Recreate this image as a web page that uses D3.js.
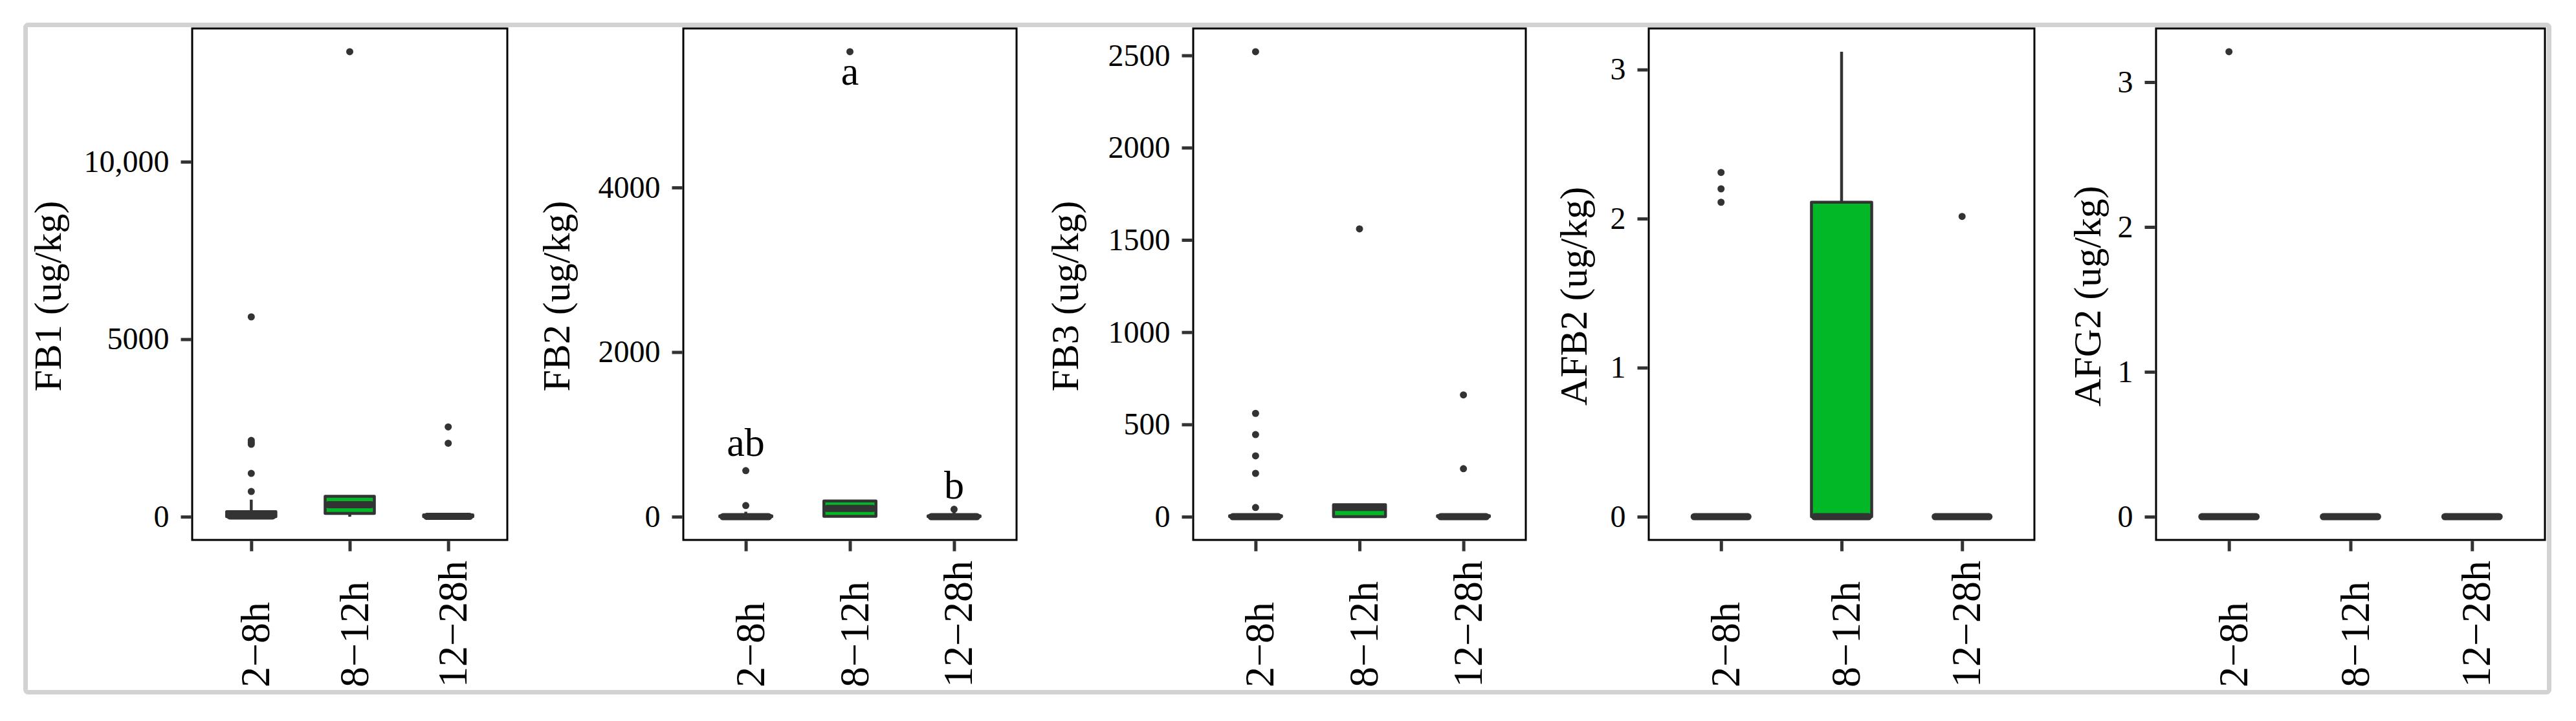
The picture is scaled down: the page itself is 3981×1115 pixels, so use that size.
<!DOCTYPE html>
<html><head><meta charset="utf-8">
<script src="https://cdn.jsdelivr.net/npm/d3@7"></script>
<style>html,body{margin:0;padding:0;background:#fff;} svg{display:block;}</style>
</head><body><svg id="chart" width="3981" height="1115"></svg>
<script>
// ---------------- data ----------------
const categories = ["2−8h", "8−12h", "12−28h"];
const yTitles = ["FB1 (ug/kg)", "FB2 (ug/kg)", "FB3 (ug/kg)", "AFB2 (ug/kg)", "AFG2 (ug/kg)"];
const fillColors = ["#ffffff", "#02B826", "#ffffff"];

// box stats per category: [lowerWhisker, q1, median, q3, upperWhisker]
const fb1Boxes = [[0, 0, 20, 140, 480], [0, 90, 340, 575, 600], [0, 0, 10, 50, 90]];
const fb1Outliers = [[5630, 2150, 2090, 2040, 1220, 710], [13100], [2530, 2070]];
const fb1Ticks = [0, 5000, 10000];
const fb1TickLabels = ["0", "5000", "10,000"];

const fb2Boxes = [[0, 0, 0, 10, 60], [0, 5, 100, 190, 190], [0, 0, 0, 10, 60]];
const fb2Outliers = [[560, 135], [5650], [90]];
const fb2Ticks = [0, 2000, 4000];
const fb2TickLabels = ["0", "2000", "4000"];
const fb2Letters = ["ab", "a", "b"];
const fb2LetterValues = [740, 5250, 220];

const fb3Boxes = [[0, 0, 0, 5, 10], [0, 0, 50, 65, 70], [0, 0, 0, 5, 10]];
const fb3Outliers = [[2520, 560, 445, 330, 235, 50], [1560], [660, 260]];
const fb3Ticks = [0, 500, 1000, 1500, 2000, 2500];
const fb3TickLabels = ["0", "500", "1000", "1500", "2000", "2500"];

const afb2Boxes = [[0, 0, 0, 0, 0], [0, 0, 0, 2.11, 3.12], [0, 0, 0, 0, 0]];
const afb2Outliers = [[2.31, 2.20, 2.11], [], [2.015]];
const afb2Ticks = [0, 1, 2, 3];
const afb2TickLabels = ["0", "1", "2", "3"];

const afg2Boxes = [[0, 0, 0, 0, 0], [0, 0, 0, 0, 0], [0, 0, 0, 0, 0]];
const afg2Outliers = [[3.21], [], []];
const afg2Ticks = [0, 1, 2, 3];
const afg2TickLabels = ["0", "1", "2", "3"];

// ---------------- layout ----------------
const FONT = "'Liberation Serif', 'Times New Roman', Times, serif";
const panelsData = [
  {boxes: fb1Boxes, outliers: fb1Outliers, ticks: fb1Ticks, labels: fb1TickLabels},
  {boxes: fb2Boxes, outliers: fb2Outliers, ticks: fb2Ticks, labels: fb2TickLabels, letters: fb2Letters, letterValues: fb2LetterValues},
  {boxes: fb3Boxes, outliers: fb3Outliers, ticks: fb3Ticks, labels: fb3TickLabels},
  {boxes: afb2Boxes, outliers: afb2Outliers, ticks: afb2Ticks, labels: afb2TickLabels},
  {boxes: afg2Boxes, outliers: afg2Outliers, ticks: afg2Ticks, labels: afg2TickLabels}
];
const layout = [
  {left: 297, right: 784, titleX: 94},
  {left: 1056, right: 1571, titleX: 880},
  {left: 1844, right: 2358, titleX: 1666},
  {left: 2548, right: 3144, titleX: 2452},
  {left: 3332, right: 3933, titleX: 3246}
];
const TOP = 44, BOTTOM = 835;
const DARK = "#333333";

const svg = d3.select("#chart");
svg.append("rect").attr("width", 3981).attr("height", 1115).attr("fill", "#fff");

panelsData.forEach((P, i) => {
  const L = layout[i];
  const vals = P.boxes.flat().concat(P.outliers.flat());
  const mn = d3.min(vals), mx = d3.max(vals);
  const pad = (mx - mn) * 0.05;
  const y = d3.scaleLinear().domain([mn - pad, mx + pad]).range([BOTTOM, TOP]);
  const x = d3.scalePoint().domain(categories).range([L.left, L.right]).padding(0.6);
  const bw = x.step() * 0.5;
  const g = svg.append("g");

  g.append("rect").attr("x", L.left).attr("y", TOP).attr("width", L.right - L.left)
    .attr("height", BOTTOM - TOP).attr("fill", "#fff");

  categories.forEach((c, k) => {
    const [wlo, q1, med, q3, whi] = P.boxes[k];
    const cx = x(c);
    g.append("line").attr("x1", cx).attr("x2", cx).attr("y1", y(q3)).attr("y2", y(whi))
      .attr("stroke", DARK).attr("stroke-width", 4.5);
    g.append("line").attr("x1", cx).attr("x2", cx).attr("y1", y(q1)).attr("y2", y(wlo))
      .attr("stroke", DARK).attr("stroke-width", 4.5);
    g.append("rect").attr("x", cx - bw / 2).attr("width", bw)
      .attr("y", y(q3)).attr("height", Math.max(0, y(q1) - y(q3)))
      .attr("fill", fillColors[k]).attr("stroke", DARK).attr("stroke-width", 4.5)
      .attr("stroke-linejoin", "round");
    g.append("line").attr("x1", cx - bw / 2 + 5).attr("x2", cx + bw / 2 - 5)
      .attr("y1", y(med)).attr("y2", y(med))
      .attr("stroke", DARK).attr("stroke-width", 11).attr("stroke-linecap", "round");
    g.selectAll(null).data(P.outliers[k]).join("circle")
      .attr("cx", cx).attr("cy", d => y(d)).attr("r", 5.5).attr("fill", DARK);
  });

  if (P.letters) {
    g.selectAll(null).data(P.letters).join("text")
      .attr("x", (d, k) => x(categories[k])).attr("y", (d, k) => y(P.letterValues[k]))
      .attr("text-anchor", "middle").attr("font-family", FONT).attr("font-size", 62)
      .attr("fill", "#000").text(d => d);
  }

  g.append("rect").attr("x", L.left).attr("y", TOP).attr("width", L.right - L.left)
    .attr("height", BOTTOM - TOP).attr("fill", "none").attr("stroke", "#000").attr("stroke-width", 3);

  const ya = d3.axisLeft(y).tickValues(P.ticks).tickFormat((d, j) => P.labels[j])
    .tickSize(16).tickPadding(18);
  g.append("g").attr("transform", `translate(${L.left - 1.5},0)`).call(ya)
    .call(a => a.select(".domain").remove())
    .call(a => a.selectAll(".tick line").attr("stroke", DARK).attr("stroke-width", 5))
    .call(a => a.selectAll(".tick text").attr("font-size", 48).attr("font-family", FONT).attr("fill", "#000"));

  const xa = d3.axisBottom(x).tickSize(16).tickFormat("");
  g.append("g").attr("transform", `translate(0,${BOTTOM + 1.5})`).call(xa)
    .call(a => a.select(".domain").remove())
    .call(a => a.selectAll(".tick line").attr("stroke", DARK).attr("stroke-width", 5));
  g.selectAll(null).data(categories).join("text")
    .attr("transform", d => `translate(${x(d) + 28},1063) rotate(-90)`)
    .attr("text-anchor", "start").attr("font-family", FONT).attr("font-size", 64)
    .attr("fill", "#000").text(d => d);

  g.append("text").attr("transform", `translate(${L.titleX},458) rotate(-90)`)
    .attr("text-anchor", "middle").attr("font-family", FONT).attr("font-size", 60)
    .attr("fill", "#000").text(yTitles[i]);
});

svg.append("rect").attr("x", 39.5).attr("y", 38.5).attr("width", 3900).attr("height", 1032)
  .attr("rx", 4).attr("fill", "none").attr("stroke", "#d2d2d2").attr("stroke-width", 7);
</script></body></html>
